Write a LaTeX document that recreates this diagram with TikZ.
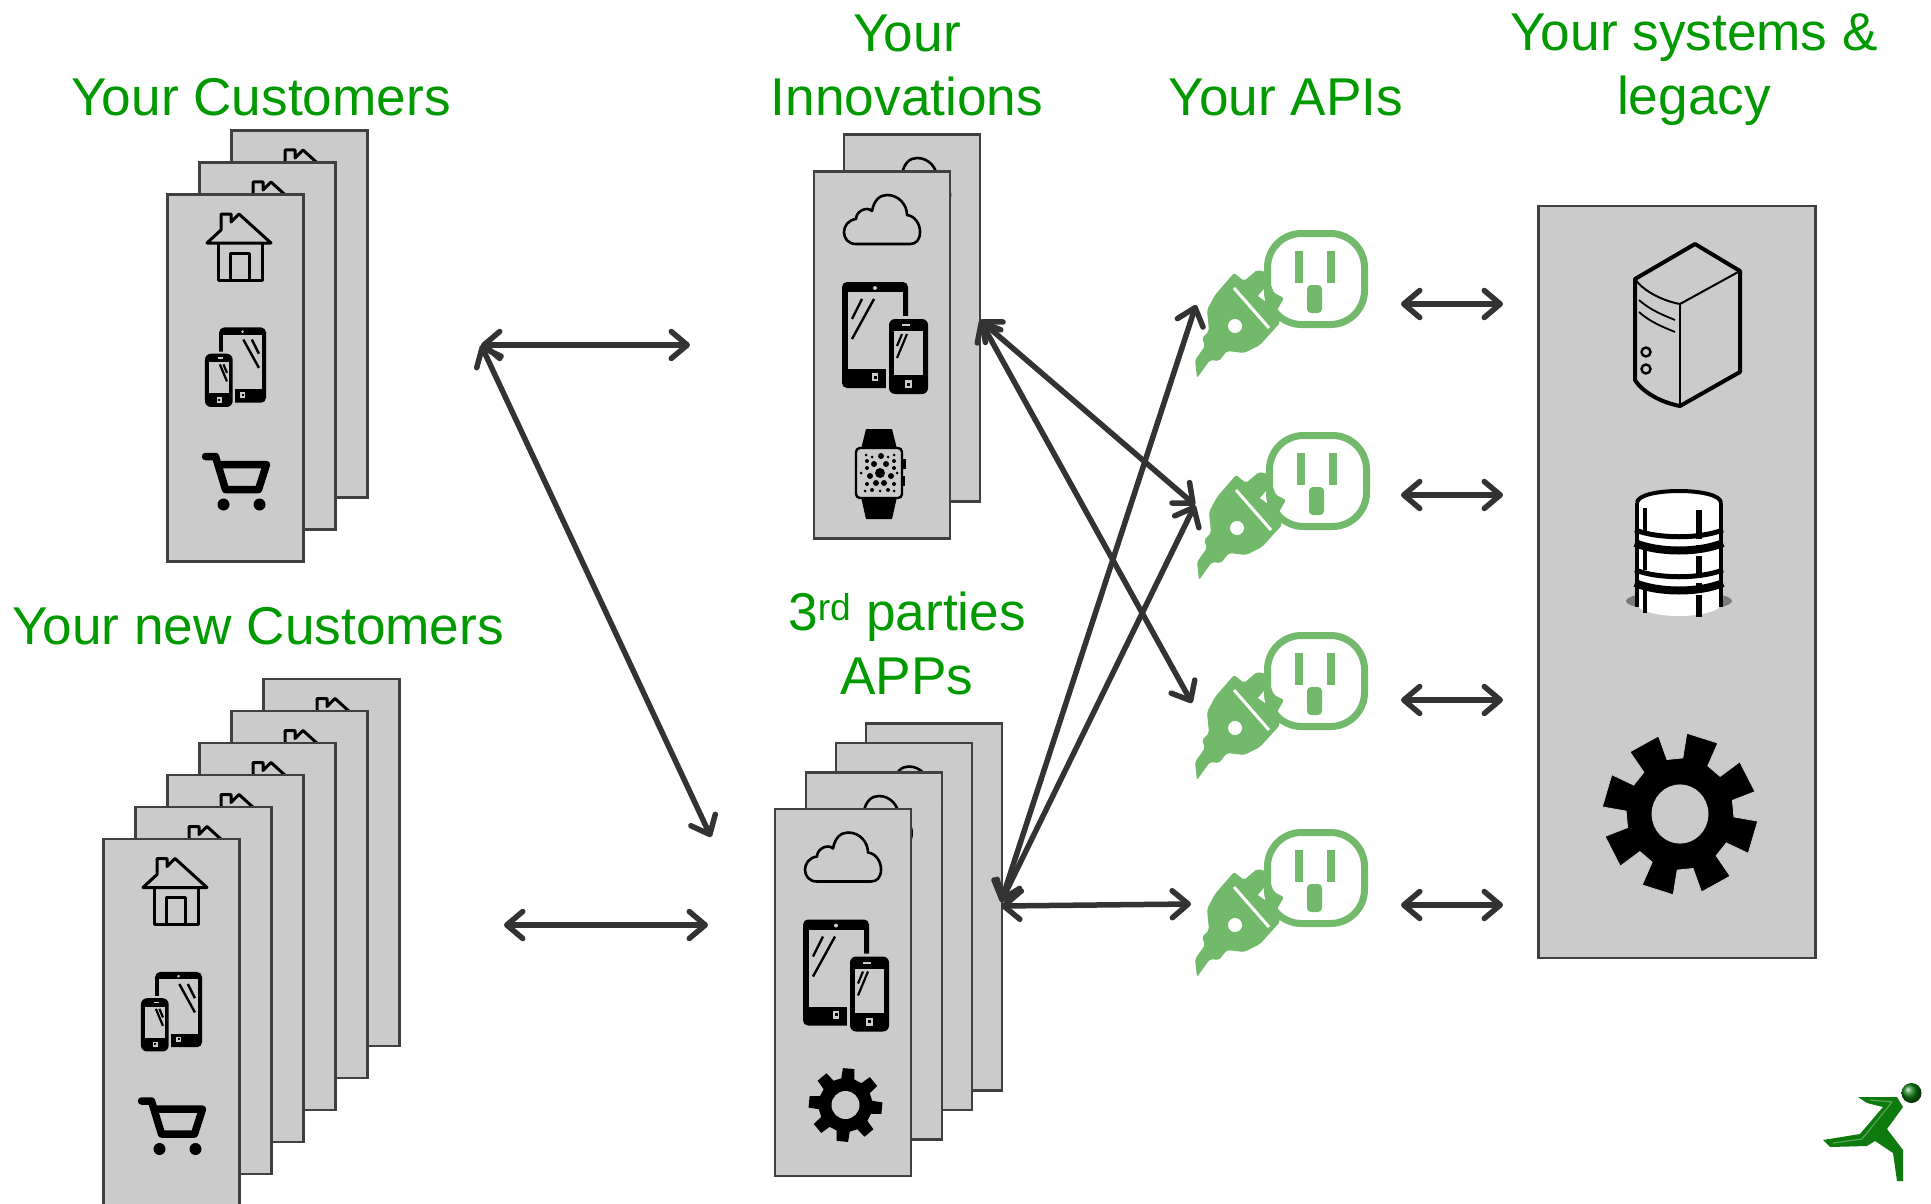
\documentclass[tikz,border=0pt]{standalone}
\usepackage{fontspec}
\setmainfont{Liberation Sans}
\usetikzlibrary{positioning, arrows.meta}

\definecolor{card_gray}{HTML}{CBCBCB}
\definecolor{edge_gray}{HTML}{404040}
\definecolor{link_gray}{HTML}{333333}
\definecolor{label_green}{HTML}{009900}
\definecolor{plug_green}{HTML}{72B96B}
\definecolor{runner_green}{HTML}{0E7A0E}

\tikzset{
    house_icon/.pic={
        \draw[line width=3pt, line join=round, line cap=round] (-32,-4) -- (-18,-17) -- (-18,-33) -- (-8,-33) -- (-8,-25) -- (0,-33) -- (32,-4) -- cycle ;
        \draw[line width=3pt, line join=round] (-21,-4) -- (-21,33) -- (23,33) -- (23,-4) ;
        \draw[line width=3pt, line join=round] (-9,33) -- (-9,6) -- (10,6) -- (10,33) ;
    },
    cart_icon/.pic={
        \draw[line width=7.5pt, line join=round, line cap=round] (-30,-25) -- (-20,-25) -- (-10,8) -- (23,8) -- (31,-17) -- (-17,-17) ;
        \fill (-12,23) circle[radius=6] ;
        \fill (24,23) circle[radius=6] ;
    },
    cloud_icon/.pic={
        \draw[line width=2.6pt, line join=round] (-26,24) .. controls (-42,24) and (-42,1) .. (-26,-1) .. controls (-26,-9) and (-15,-14) .. (-10,-9) .. controls (-8,-20) and (-2,-25) .. (5,-25) .. controls (17,-25) and (25,-15) .. (25,-5) .. controls (33,-4) and (38,4) .. (38,12) .. controls (38,20) and (34,24) .. (28,24) -- cycle ;
    },
    devices_icon/.pic={
        \fill[rounded corners=5pt] (-43,-55) rectangle (23,51) ;
        \fill[card_gray] (-37,-45) rectangle (18,32) ;
        \fill[card_gray] (-10,-49) circle[radius=2] ;
        \fill[card_gray] (-13,36) rectangle (-7,44) ;
        \fill (-11.5,38.5) rectangle (-8.5,41.5) ;
        \draw[line width=2.4pt] (-33,-18) -- (-23,-38) ;
        \draw[line width=2.4pt] (-33,2) -- (-11,-38) ;
        \fill[card_gray, rounded corners=7pt] (1,-21) rectangle (46,60) ;
        \fill[rounded corners=6pt] (4,-18) rectangle (43,57) ;
        \fill[card_gray] (9,-6) rectangle (38,38) ;
        \fill[card_gray] (17,-13) rectangle (25,-11) ;
        \fill[card_gray] (19.5,43) rectangle (26.5,51) ;
        \fill (21.5,45.5) rectangle (24.5,48.5) ;
        \draw[line width=2.2pt] (12,21) -- (22,-3) ;
        \draw[line width=2.2pt] (12,9) -- (17,-3) ;
    },
    gear_icon/.pic={
        \fill (-9:27) -- (-4:37) -- (14:37) -- (19:27)
            -- (36:27) -- (41:37) -- (59:37) -- (64:27)
            -- (81:27) -- (86:37) -- (104:37) -- (109:27)
            -- (126:27) -- (131:37) -- (149:37) -- (154:27)
            -- (171:27) -- (176:37) -- (194:37) -- (199:27)
            -- (216:27) -- (221:37) -- (239:37) -- (244:27)
            -- (261:27) -- (266:37) -- (284:37) -- (289:27)
            -- (306:27) -- (311:37) -- (329:37) -- (334:27) -- cycle ;
        \fill[card_gray] (0,0) circle[radius=14] ;
    },
    big_gear_icon/.pic={
        \filldraw[draw=white!80!black, line width=0.8pt] (3:54) -- (5:78) -- (29:78) -- (31:54)
            -- (48:54) -- (50:78) -- (74:78) -- (76:54)
            -- (93:54) -- (95:78) -- (119:78) -- (121:54)
            -- (138:54) -- (140:78) -- (164:78) -- (166:54)
            -- (183:54) -- (185:78) -- (209:78) -- (211:54)
            -- (228:54) -- (230:78) -- (254:78) -- (256:54)
            -- (273:54) -- (275:78) -- (299:78) -- (301:54)
            -- (318:54) -- (320:78) -- (344:78) -- (346:54) -- cycle ;
        \filldraw[draw=white!80!black, fill=card_gray, line width=0.8pt] (0,0) circle[radius=28] ;
    },
    watch_icon/.pic={
        \fill (-14,-44) -- (12,-44) -- (17,-24) -- (-19,-24) -- cycle ;
        \fill (-19,24) -- (17,24) -- (12,46) -- (-14,46) -- cycle ;
        \fill (22,-14) rectangle (26,-4) ;
        \fill (22,3) rectangle (25,13) ;
        \draw[line width=2.4pt, fill=card_gray, rounded corners=4pt] (-24,-25) rectangle (22,25) ;
        \fill (0,0) circle[radius=5] ;
        \fill (-6,-9) circle[radius=3] (6,-9) circle[radius=3] (-10,3) circle[radius=3] (11,3) circle[radius=3] ;
        \fill (-4,10) circle[radius=3] (4,10) circle[radius=3] (1,-17) circle[radius=3] ;
        \fill (-14,-18) circle[radius=1.5] (-8,-16) circle[radius=1.5] (8,-16) circle[radius=1.5] (14,-18) circle[radius=1.5] ;
        \fill (-13,-12) circle[radius=2] (14,-12) circle[radius=2] (-13,-5) circle[radius=2] (14,-5) circle[radius=2] ;
        \fill (-19,0) circle[radius=1.5] (17,0) circle[radius=1.5] (-13,11) circle[radius=2] (14,11) circle[radius=2] ;
        \fill (-15,18) circle[radius=1.5] (-8,17) circle[radius=2] (0,18) circle[radius=1.5] (8,17) circle[radius=2] (14,18) circle[radius=1.5] ;
    },
    plug_icon/.pic={
        \fill[plug_green, rounded corners=2pt] (-82,-6) -- (-72,2) -- (-59,-9) -- (-50,-7) -- (-42,14) -- (-32,19) -- (-39,31) -- (-36,44) -- (-56,66) -- (-72,74) -- (-89,72) -- (-97,82) -- (-106,81) -- (-119,99) -- (-121,81) -- (-111,67) -- (-114,59) -- (-107,52) -- (-109,31) -- (-101,16) -- cycle ;
        \draw[white, line width=3pt] (-82,9) -- (-47,49) ;
        \fill[white] (-81,47) circle[radius=7] ;
        \fill[white] (-58,17) -- (-52,10) -- (-51,22) -- cycle ;
        \draw[plug_green, line width=7pt, rounded corners=34pt] (-48.5,-45.5) rectangle (48.5,45.5) ;
        \fill[plug_green] (-21,-28) rectangle (-13,4) ;
        \fill[plug_green] (11,-28) rectangle (19,4) ;
        \fill[plug_green, rounded corners=4pt] (-9,34) -- (-9,6) -- (6,6) -- (6,34) -- cycle ;
    },
    server_icon/.pic={
        \draw[line width=4pt, line join=round] (7,-81) -- (52,-54) -- (52,47) -- (-8,81) .. controls (-25,78) and (-45,68) .. (-53,55) -- (-53,-46) -- cycle ;
        \draw[line width=2pt] (-53,-46) .. controls (-45,-34) and (-25,-24) .. (-8,-21) -- (52,-54) ;
        \draw[line width=2pt] (-8,-21) -- (-8,81) ;
        \draw[line width=1.8pt] (-49,-25) .. controls (-38,-15) and (-25,-10) .. (-13,-5) ;
        \draw[line width=1.8pt] (-49,-13) .. controls (-38,-3) and (-25,2) .. (-13,7) ;
        \draw[line width=2.4pt] (-42,27) circle[radius=4.5] ;
        \draw[line width=2.4pt] (-42,44) circle[radius=4.5] ;
    },
    database_icon/.pic={
        \fill[black!60, opacity=0.8] (0,48) ellipse[x radius=53, y radius=10] ;
        \fill[white] (-44,-50) .. controls (-44,-68) and (44,-68) .. (44,-50) -- (44,48) .. controls (44,68) and (-44,68) .. (-44,48) -- cycle ;
        \draw[line width=4pt] (-42,-50) .. controls (-42,-66) and (42,-66) .. (42,-50) ;
        \draw[line width=4pt] (-42,-50) -- (-42,54) (42,-50) -- (42,54) ;
        \draw[line width=5pt] (-44,-23) .. controls (-20,-14) and (20,-14) .. (44,-23) ;
        \draw[line width=8pt] (-44,-10) .. controls (-20,0) and (20,0) .. (44,-10) ;
        \draw[line width=5pt] (-44,17) .. controls (-20,26) and (20,26) .. (44,17) ;
        \draw[line width=8pt] (-44,30) .. controls (-20,40) and (20,40) .. (44,30) ;
        \draw[line width=3.5pt] (-34,-45) -- (-34,-20) (-34,-5) -- (-34,17) (-34,37) -- (-34,60) ;
        \draw[line width=6pt] (20,-43) -- (20,-14) (20,-8) -- (20,-1) (20,3) -- (20,24) (20,30) -- (20,36) (20,42) -- (20,64) ;
    },
    customer_icons/.pic={
        \pic at (3.5,-131) {house_icon} ;
        \pic[xscale=-0.71, yscale=0.71] at (0,-11.5) {devices_icon} ;
        \pic at (0,103.5) {cart_icon} ;
    },
    innovation_icons/.pic={
        \pic at (0,-135) {cloud_icon} ;
        \pic at (3,-18) {devices_icon} ;
        \pic at (-2,118) {watch_icon} ;
    },
    party_icons/.pic={
        \pic at (0,-135) {cloud_icon} ;
        \pic at (3,-18) {devices_icon} ;
        \pic at (2.5,112.5) {gear_icon} ;
    },
    hidden_cloud/.pic={
        \pic at (0,-135) {cloud_icon} ;
    },
}

\begin{document}
\begin{tikzpicture}
    [
        x=1pt, y=-1pt, node distance=32pt and 32pt, on grid,
        card_node/.style={rectangle, draw=edge_gray, fill=card_gray, line width=2.2pt, inner sep=0pt, outer sep=0pt, minimum width=136pt, minimum height=367pt},
        label_node/.style={text=label_green, align=center, inner sep=0pt, font=\fontsize{53.2}{64}\selectfont},
        link_line/.style={{Straight Barb[length=16pt, width=27pt, round]}-{Straight Barb[length=16pt, width=27pt, round]}, line width=5.5pt, color=link_gray},
    ]
        \useasboundingbox (0,0) rectangle (1931,1204) ;

        \node[label_node] (customers_label) at (261,97) {Your Customers} ;
        \node[label_node] (innovations_label) at (907,65.5) {Your\\Innovations} ;
        \node[label_node] (apis_label) at (1286,97) {Your APIs} ;
        \node[label_node] (systems_label) at (1694,70) {Your systems \&\\legacy} ;
        \node[label_node] (new_label) at (258,626) {Your new Customers} ;
        \node[label_node] (parties_label) at (907,643) {3\textsuperscript{rd} parties\\APPs} ;

        \node[card_node] (cust3) at (299.5,314) {} ;
        \pic at (cust3) {customer_icons} ;
        \node[card_node] (cust2) [below left = of cust3] {} ;
        \pic at (cust2) {customer_icons} ;
        \node[card_node] (cust1) [below left = of cust2] {} ;
        \pic at (cust1) {customer_icons} ;

        \node[card_node] (new6) at (331.5,862.5) {} ;
        \pic at (new6) {customer_icons} ;
        \node[card_node] (new5) [below left = of new6] {} ;
        \pic at (new5) {customer_icons} ;
        \node[card_node] (new4) [below left = of new5] {} ;
        \pic at (new4) {customer_icons} ;
        \node[card_node] (new3) [below left = of new4] {} ;
        \pic at (new3) {customer_icons} ;
        \node[card_node] (new2) [below left = of new3] {} ;
        \pic at (new2) {customer_icons} ;
        \node[card_node] (new1) [below left = of new2] {} ;
        \pic at (new1) {customer_icons} ;

        \node[card_node] (inno2) at (912,318) {} ;
        \pic at (inno2) {hidden_cloud} ;
        \node[card_node] (inno1) [below left = 37pt and 30pt of inno2] {} ;
        \pic at (inno1) {innovation_icons} ;

        \node[card_node] (party4) at (933.7,907) {} ;
        \pic at (party4) {hidden_cloud} ;
        \node[card_node] (party3) [below left = 19.5pt and 30pt of party4] {} ;
        \pic at (party3) {hidden_cloud} ;
        \node[card_node] (party2) [below left = 29.5pt and 30pt of party3] {} ;
        \pic at (party2) {hidden_cloud} ;
        \node[card_node] (party1) [below left = 36.5pt and 30.7pt of party2] {} ;
        \pic at (party1) {party_icons} ;

        \node[card_node, minimum width=277pt, minimum height=752pt] (systems) at (1677,582) {} ;
        \pic at (1688,325) {server_icon} ;
        \pic at (1679,553) {database_icon} ;
        \pic[yscale=1.04] at (1680,814) {big_gear_icon} ;

        \pic at (1316,279) {plug_icon} ;
        \pic at (1318,481) {plug_icon} ;
        \pic at (1316,681) {plug_icon} ;
        \pic at (1316,878) {plug_icon} ;

        \coordinate (cust_port) at (481,345) ;
        \coordinate (inno_left) at (690,345) ;
        \coordinate (party_top) at (711,837) ;
        \coordinate (new_port) at (504,925) ;
        \coordinate (party_left) at (708,925) ;
        \coordinate (inno_right) at (980,320) ;
        \coordinate (party_right) at (1001,902) ;
        \coordinate (party_low) at (1001,906) ;
        \coordinate (plug1_in) at (1196,305) ;
        \coordinate (plug2_in) at (1195,505) ;
        \coordinate (plug3_in) at (1192,703) ;
        \coordinate (plug4_in) at (1191,904) ;
        \coordinate (plug1_out) at (1401,304) ;
        \coordinate (plug2_out) at (1401,495) ;
        \coordinate (plug3_out) at (1401,700) ;
        \coordinate (plug4_out) at (1401,905) ;
        \coordinate (sys1_in) at (1503,304) ;
        \coordinate (sys2_in) at (1503,495) ;
        \coordinate (sys3_in) at (1503,700) ;
        \coordinate (sys4_in) at (1503,905) ;

        \draw[link_line] (cust_port) to (inno_left) ;
        \draw[link_line] (cust_port) to (party_top) ;
        \draw[link_line] (new_port) to (party_left) ;
        \draw[link_line] (inno_right) to (plug2_in) ;
        \draw[link_line] (inno_right) to (plug3_in) ;
        \draw[link_line] (party_right) to (plug1_in) ;
        \draw[link_line] (party_right) to (plug2_in) ;
        \draw[link_line] (party_low) to (plug4_in) ;
        \draw[link_line] (plug1_out) to (sys1_in) ;
        \draw[link_line] (plug2_out) to (sys2_in) ;
        \draw[link_line] (plug3_out) to (sys3_in) ;
        \draw[link_line] (plug4_out) to (sys4_in) ;

        \fill[runner_green] (1858,1097) -- (1897,1097) -- (1903,1107) -- (1887,1129) -- (1903,1150) -- (1903,1181) -- (1897,1181) -- (1893,1153) -- (1875,1141) -- (1867,1146) -- (1830,1147) -- (1823,1140) -- (1860,1134) -- (1883,1107) -- (1867,1103) -- cycle ;
        \draw[runner_green!70!white, line width=1.2pt, line join=round] (1870,1100) -- (1892,1102) -- (1862,1139) -- (1833,1143) ;
        \shade[ball color=runner_green] (1911.5,1093) circle[radius=10] ;
    \end{tikzpicture}
\end{document}
